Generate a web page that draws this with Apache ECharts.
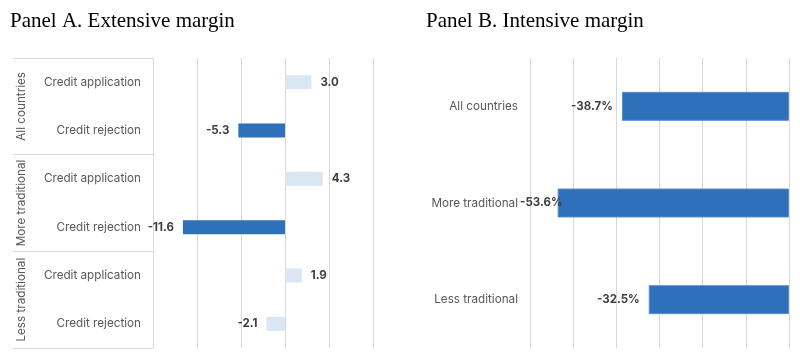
<!DOCTYPE html>
<html><head><meta charset="utf-8">
<script src="https://cdn.jsdelivr.net/npm/echarts@6/dist/echarts.min.js"></script>
<style>html,body{margin:0;padding:0;background:#fff}#c{width:800px;height:359px}</style>
</head><body><div id="c"></div>
<script>
// Panel A data
const groupsA = ['All countries', 'More traditional', 'Less traditional'];
const itemsA = ['Credit application', 'Credit rejection', 'Credit application', 'Credit rejection', 'Credit application', 'Credit rejection'];
const valuesA = [3.0, -5.3, 4.3, -11.6, 1.9, -2.1];
const strongA = [false, true, false, true, false, false];
const ticksA = [-15, -10, -5, 0, 5, 10];
// Panel B data
const catsB = ['All countries', 'More traditional', 'Less traditional'];
const valuesB = [-38.7, -53.6, -32.5];
const ticksB = [-60, -50, -40, -30, -20, -10, 0];

const DARK = '#2E70B9', LIGHT = '#DAE6F3', GRID = '#D9D9D9', LAB = '#595959', VAL = '#404040';
const FONT = 'Inter';

const chart = echarts.init(document.getElementById('c'), null, {renderer: 'canvas'});
chart.setOption({
  animation: false,
  title: [
    {text: 'Panel A. Extensive margin', left: 10, top: 11, padding: 0,
     textStyle: {fontFamily: 'Liberation Serif', fontSize: 21, fontWeight: 'normal', color: '#000'}},
    {text: 'Panel B. Intensive margin', left: 426, top: 11, padding: 0,
     textStyle: {fontFamily: 'Liberation Serif', fontSize: 21, fontWeight: 'normal', color: '#000'}}
  ],
  grid: [
    {left: 153, right: 427, top: 58, bottom: 11},
    {left: 530, right: 11, top: 58, bottom: 11}
  ],
  xAxis: [
    {gridIndex: 0, type: 'value', min: ticksA[0], max: ticksA[ticksA.length - 1], interval: 5,
     axisLabel: {show: false}, axisLine: {show: false}, axisTick: {show: false},
     splitLine: {show: true, lineStyle: {color: GRID, width: 1}}},
    {gridIndex: 1, type: 'value', min: ticksB[0], max: ticksB[ticksB.length - 1], interval: 10,
     axisLabel: {show: false}, axisLine: {show: false}, axisTick: {show: false},
     splitLine: {show: true, lineStyle: {color: GRID, width: 1}}}
  ],
  yAxis: [
    {gridIndex: 0, type: 'category', data: itemsA, inverse: true, position: 'left',
     axisLine: {show: false}, axisTick: {show: false},
     axisLabel: {interval: 0, margin: 12, color: LAB, fontSize: 11.7, fontFamily: FONT}},
    {gridIndex: 0, type: 'category', data: groupsA, inverse: true, position: 'left', offset: 0,
     axisLine: {show: true, lineStyle: {color: GRID, width: 1}},
     axisTick: {show: true, interval: 0, length: 140, lineStyle: {color: GRID, width: 1}},
     axisLabel: {interval: 0, rotate: 90, margin: 126, color: LAB, fontSize: 11.7, fontFamily: FONT, hideOverlap: false}},
    {gridIndex: 1, type: 'category', data: catsB, inverse: true,
     axisLine: {show: false}, axisTick: {show: false},
     axisLabel: {interval: 0, margin: 12, color: LAB, fontSize: 11.7, fontFamily: FONT}}
  ],
  series: [
    {type: 'bar', xAxisIndex: 0, yAxisIndex: 0, barWidth: '29%',
     data: valuesA.map((v, i) => ({
       value: v,
       itemStyle: {color: strongA[i] ? DARK : LIGHT},
       label: {position: v >= 0 ? 'right' : 'left'}
     })),
     label: {show: true, distance: 9, color: VAL, fontWeight: 'bold', fontSize: 11.5, fontFamily: FONT,
             formatter: p => p.value.toFixed(1)}},
    {type: 'bar', xAxisIndex: 1, yAxisIndex: 2, barWidth: '30%',
     itemStyle: {color: DARK, borderColor: '#5B8FD0', borderWidth: 1},
     data: valuesB.map((v, i) => ({
       value: v,
       label: i === 1 ? {distance: -5} : {}
     })),
     label: {show: true, position: 'left', distance: 9, color: VAL, fontWeight: 'bold', fontSize: 11.5, fontFamily: FONT,
             formatter: p => p.value.toFixed(1) + '%'}}
  ]
});
</script></body></html>
